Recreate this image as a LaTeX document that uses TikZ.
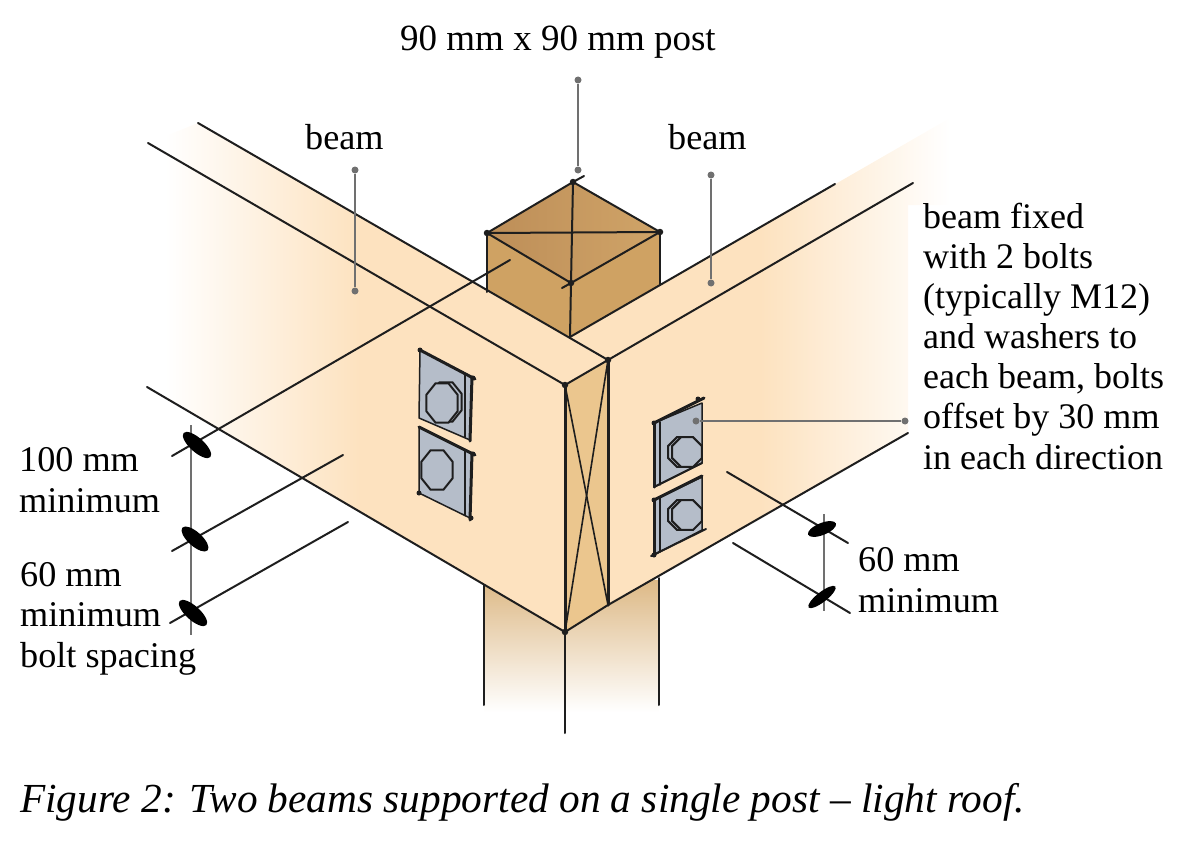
\documentclass[tikz,border=0pt]{standalone}
\usepackage{fontspec}
\setmainfont{Liberation Serif}
\usetikzlibrary{shapes.geometric}
\definecolor{beamc}{HTML}{FDE2BF}
\definecolor{endc}{HTML}{EBC68E}
\definecolor{postc}{HTML}{CFA263}
\definecolor{posttopa}{HTML}{BD8E58}
\definecolor{posttopb}{HTML}{D0A468}
\definecolor{lowpost}{HTML}{DDB986}
\definecolor{platec}{HTML}{B5BDC9}
\definecolor{ink}{HTML}{1E1E1E}
\definecolor{leadc}{HTML}{707070}
\tikzset{
  x=1pt,y=-1pt,
  ln/.style={draw=ink,line width=2pt,line cap=round},
  thk/.style={draw=ink,line width=3pt,line cap=round},
  leader/.style={draw=leadc,line width=1.6pt},
  dot/.style={circle,fill=leadc,inner sep=0pt,minimum size=7pt},
  blob/.style={fill=black},
  vtx/.style={circle,fill=ink,inner sep=0pt,minimum size=6.5pt},
  cdot/.style={circle,fill=ink,inner sep=0pt,minimum size=5pt},
  label/.style={inner sep=0pt,align=left,anchor=base west,font=\fontsize{36.2}{40.2}\selectfont},
  plate/.style={fill=platec,draw=ink,line width=1.5pt,line join=round},
  bolt/.style={regular polygon,regular polygon sides=8,draw=ink,line width=2pt,inner sep=0pt,minimum size=34pt,fill=platec},
}
\begin{document}
\begin{tikzpicture}
\useasboundingbox (0,0) rectangle (1200,867);
% key points
\coordinate (bl1) at (198,123);
\coordinate (bl2) at (148,143);
\coordinate (bl3) at (147,387);
\coordinate (cTop) at (565,385);
\coordinate (cBot) at (565,632);
\coordinate (eTop) at (608,360);
\coordinate (eBot) at (608,605);
\coordinate (pB) at (570,337);
\coordinate (pL) at (487,233);
\coordinate (pR) at (660,232);
\coordinate (pT) at (573,182);
\coordinate (pF) at (571,283);
\coordinate (pLb) at (487,292);
\coordinate (pRb) at (660,285);
% lower post
\shade[top color=lowpost,bottom color=white] (484,580) rectangle (659,712);
\draw[ln] (484,583) -- (484,705);
\draw[ln] (659,578) -- (659,705);
% upper post
\fill[postc] (pL) -- (pF) -- (pR) -- (pRb) -- (pB) -- (pLb) -- cycle;
\shade[left color=posttopa,right color=posttopb] (pL) -- (pT) -- (pR) -- (pF) -- cycle;
% beams, left
\begin{scope}
\clip (bl1) -- (eTop) -- (cTop) -- (cBot) -- (bl3) -- (bl2) -- cycle;
\shade[left color=white,right color=beamc] (165,100) rectangle (360,650);
\fill[beamc] (359,100) rectangle (620,650);
\end{scope}
% beams, right
\begin{scope}
\clip (pB) -- (950,118) -- (950,205) -- (908,205) -- (908,433) -- (eBot) -- (cBot) -- (cTop) -- (eTop) -- cycle;
\fill[beamc] (560,100) rectangle (761,650);
\shade[left color=beamc,right color=white] (760,100) rectangle (950,650);
\end{scope}
% end grain
\fill[endc] (cTop) -- (eTop) -- (eBot) -- (cBot) -- cycle;
% beam outlines
\draw[ln] (bl1) -- (eTop) -- (913,183);
\draw[ln] (bl2) -- (cTop) -- (eTop);
\draw[ln] (bl3) -- (cBot) -- (eBot) -- (908,433);
\draw[ln] (pB) -- (835,184);
\draw[thk] (cTop) -- (cBot);
\draw[thk] (eTop) -- (eBot);
\draw[ln,line width=1.6pt] (cTop) -- (eBot);
\draw[ln,line width=1.6pt] (eTop) -- (cBot);
\draw[ln] (cBot) -- (565,733);
% post outlines
\draw[ln] (pL) -- (pT) -- (pR) -- (pF) -- cycle;
\draw[ln] (pL) -- (pR);
\draw[ln] (pT) -- (pF);
\draw[ln] (pL) -- (pLb);
\draw[ln] (pF) -- (pB);
\draw[ln] (pR) -- (pRb);
\draw[ln] (pT) -- (584,176);
\draw[ln] (pF) -- (562,288);
\node[vtx] (v1) at (pL) {};
\node[vtx] (v2) at (pR) {};
\node[vtx] (v3) at (pF) {};
\node[vtx] (v4) at (pT) {};
\node[vtx] (v5) at (eTop) {};
\node[vtx] (v6) at (cBot) {};
\node[vtx] (v7) at (cTop) {};
% plates left
\draw[plate] (420,350) -- (472,377) -- (470,440) -- (419,418) -- cycle;
\draw[plate] (419,427) -- (472,453) -- (470,518) -- (419,493) -- cycle;
\draw[thk] (420,350) -- (475,379);
\draw[thk] (419,427) -- (475,455);
\draw[thk] (472,377) -- (470,441);
\draw[thk] (472,453) -- (470,520);
\draw[ln,line width=1.2pt] (465,374) -- (465,437);
\draw[ln,line width=1.2pt] (465,450) -- (465,515);
\node[bolt,yscale=1.25] (b1b) at (446,402) {};
\node[bolt,yscale=1.25] (b1) at (442,403) {};
\node[bolt,yscale=1.25] (b2) at (437,470) {};
\node[cdot] (c1) at (420,350) {};
\node[cdot] (c2) at (473,378) {};
\node[cdot] (c3) at (419,493) {};
\node[cdot] (c4) at (471,518) {};
\node[cdot] (c5) at (473,454) {};
% plates right
\draw[plate] (654,423) -- (702,403) -- (702,463) -- (654,487) -- cycle;
\draw[plate] (654,500) -- (702,477) -- (702,530) -- (654,555) -- cycle;
\draw[thk] (654,423) -- (704,398);
\draw[thk] (654,500) -- (702,476);
\draw[thk] (654,423) -- (654,487);
\draw[thk] (654,500) -- (654,555);
\draw[ln,line width=1.2pt] (660,422) -- (660,485);
\draw[ln,line width=1.2pt] (660,498) -- (660,552);
\draw[ln] (654,487) -- (702,463);
\draw[ln] (651,556) -- (706,529);
\node[bolt,minimum size=32pt] (b3b) at (683,452) {};
\node[bolt,minimum size=32pt] (b3) at (687,452) {};
\node[bolt,minimum size=32pt] (b4b) at (683,515) {};
\node[bolt,minimum size=32pt] (b4) at (687,515) {};
\node[cdot] (c6) at (654,423) {};
\node[cdot] (c7) at (654,500) {};
\node[cdot] (c8) at (654,555) {};
\node[cdot] (c9) at (698,399) {};
% dimension lines, left
\coordinate (d1a) at (510,260); \coordinate (d1b) at (172,456);
\coordinate (d2a) at (343,455); \coordinate (d2b) at (172,551);
\coordinate (d3a) at (348,522); \coordinate (d3b) at (170,623);
\coordinate (dvA) at (191,425); \coordinate (dvB) at (191,635);
\draw[ln] (d1a) -- (d1b);
\draw[ln] (d2a) -- (d2b);
\draw[ln] (d3a) -- (d3b);
\draw[draw=leadc,line width=1.8pt] (dvA) -- (dvB);
\fill[blob,shift={(197,445)},rotate=-42] (0,0) ellipse (18 and 7);
\fill[blob,shift={(195,539)},rotate=-42] (0,0) ellipse (17 and 7);
\fill[blob,shift={(193,613)},rotate=-42] (0,0) ellipse (18 and 7);
% dimension lines, right
\coordinate (r1a) at (727,472); \coordinate (r1b) at (848,543);
\coordinate (r2a) at (733,543); \coordinate (r2b) at (850,613);
\coordinate (rvA) at (824,514); \coordinate (rvB) at (824,611);
\draw[ln] (r1a) -- (r1b);
\draw[ln] (r2a) -- (r2b);
\draw[draw=leadc,line width=1.8pt] (rvA) -- (rvB);
\fill[blob,shift={(822,529)},rotate=22] (0,0) ellipse (15 and 6);
\fill[blob,shift={(822,597)},rotate=38] (0,0) ellipse (17 and 5);
% leaders
\node[dot] (la) at (578,80) {};
\node[dot] (lb) at (578,170) {};
\draw[leader] (la) -- (lb);
\node[dot] (lc) at (355,170) {};
\node[dot] (ld) at (355,291) {};
\draw[leader] (lc) -- (ld);
\node[dot] (le) at (711,175) {};
\node[dot] (lf) at (711,283) {};
\draw[leader] (le) -- (lf);
\node[dot] (lg) at (905,421) {};
\node[dot] (lh) at (696,421) {};
\draw[leader] (lg) -- (lh);
% labels
\node[label,font=\fontsize{37}{40}\selectfont] (t1) at (400,51) {90 mm x 90 mm post};
\node[label] (t2) at (305,149) {beam};
\node[label] (t3) at (668,149) {beam};
\node[label,font=\fontsize{36}{40.1}\selectfont] (t4) at (923,469) {beam fixed\\with 2 bolts\\(typically M12)\\and washers to\\each beam, bolts\\offset by 30 mm\\in each direction};
\node[label] (t5) at (19,512) {100 mm\\minimum};
\node[label] (t6) at (20,667) {60 mm\\minimum\\bolt spacing};
\node[label] (t7) at (858,612) {60 mm\\minimum};
\node[label,font=\fontsize{41.3}{44}\selectfont\itshape] (t8) at (20,812) {Figure 2: Two beams supported on a single post – light roof.};
\end{tikzpicture}
\end{document}
